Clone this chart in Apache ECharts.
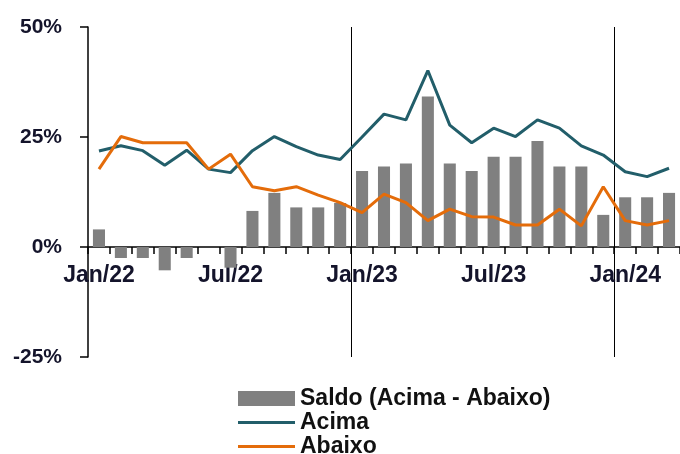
<!DOCTYPE html>
<html>
<head>
<meta charset="utf-8">
<script src="https://cdn.jsdelivr.net/npm/echarts@6/dist/echarts.min.js"></script>
<style>
  html, body { margin: 0; padding: 0; background: #fff; }
  #chart { width: 680px; height: 454px; }
</style>
</head>
<body>
<div id="chart"></div>
<script>
  let months = ['Jan/22', 'Fev/22', 'Mar/22', 'Abr/22', 'Mai/22', 'Jun/22', 'Jul/22', 'Ago/22', 'Set/22', 'Out/22', 'Nov/22', 'Dez/22',
    'Jan/23', 'Fev/23', 'Mar/23', 'Abr/23', 'Mai/23', 'Jun/23', 'Jul/23', 'Ago/23', 'Set/23', 'Out/23', 'Nov/23', 'Dez/23',
    'Jan/24', 'Fev/24', 'Mar/24']
  let saldo = [4.0, -2.5, -2.5, -5.3, -2.5, 0, -4.7, 8.2, 12.3, 9.0, 9.0, 10.0,
    17.3, 18.3, 19.0, 34.2, 19.0, 17.3, 20.5, 20.5, 24.1, 18.3, 18.3, 7.3,
    11.3, 11.3, 12.3]
  let acima = [21.8, 23.0, 21.9, 18.6, 22.0, 17.7, 16.9, 21.9, 25.1, 22.8, 20.9, 19.9,
    25.0, 30.2, 28.9, 40.1, 27.7, 23.7, 27.0, 25.1, 28.9, 27.0, 23.0, 20.9,
    17.1, 16.0, 17.9]
  let abaixo = [17.7, 25.1, 23.7, 23.7, 23.7, 17.7, 21.1, 13.7, 12.8, 13.7, 11.8, 10.1,
    7.8, 12.0, 10.1, 6.0, 8.6, 6.9, 6.8, 5.0, 5.0, 8.6, 4.8, 13.7,
    6.0, 5.0, 6.0]
  // year breaks drawn as split lines before these category indexes
  let yearBreaks = [12, 24]

  let myChart = echarts.init(document.getElementById('chart'))
  let font = 'Liberation Sans, Arial, sans-serif'
  let lineIcon = 'path://M0,0H19V1H0Z'
  let option = {
    animation: false,
    grid: [
      {left: 88, top: 27, width: 594, height: 330},
      // upper part only: its bottom edge is the 0% line, carries the month axis
      {left: 88, top: 27, width: 594, height: 220}
    ],
    legend: {
      orient: 'vertical',
      left: 233,
      top: 382,
      height: 120,
      itemWidth: 57,
      itemHeight: 15,
      itemGap: 1,
      symbolKeepAspect: true,
      data: [
        {name: 'Saldo (Acima - Abaixo)', icon: 'rect'},
        {name: 'Acima', icon: lineIcon},
        {name: 'Abaixo', icon: lineIcon}
      ],
      textStyle: {fontFamily: font, fontSize: 23, fontWeight: 'bold', color: '#111'}
    },
    xAxis: [
      {
        type: 'category',
        data: months,
        axisLine: {show: false},
        axisTick: {show: false},
        axisLabel: {show: false},
        splitLine: {
          show: true,
          interval: (index) => yearBreaks.includes(index),
          lineStyle: {color: '#000', width: 1}
        }
      },
      {
        type: 'category',
        gridIndex: 1,
        data: months,
        axisLine: {show: true, lineStyle: {color: '#000', width: 1.5}},
        axisTick: {show: true, interval: 0, length: 7, lineStyle: {color: '#000', width: 1.5}},
        axisLabel: {
          interval: 5,
          margin: 17,
          fontFamily: font,
          fontSize: 23,
          fontWeight: 'bold',
          color: '#14142b'
        },
        splitLine: {show: false}
      }
    ],
    yAxis: [
      {
        type: 'value',
        min: -25,
        max: 50,
        interval: 25,
        axisLine: {show: true, onZero: false, lineStyle: {color: '#000', width: 1.5}},
        axisTick: {show: true, length: 8, lineStyle: {color: '#000', width: 1.5}},
        axisLabel: {
          formatter: '{value}%',
          margin: 26,
          fontFamily: font,
          fontSize: 21,
          fontWeight: 'bold',
          color: '#14142b'
        },
        splitLine: {show: false}
      },
      {
        type: 'value',
        gridIndex: 1,
        min: 0,
        max: 50,
        show: false
      }
    ],
    series: [
      {
        name: 'Saldo (Acima - Abaixo)',
        type: 'bar',
        data: saldo,
        barWidth: '55%',
        itemStyle: {color: '#808080'}
      },
      {
        name: 'Acima',
        type: 'line',
        data: acima,
        symbol: 'none',
        lineStyle: {color: '#225e6a', width: 3},
        itemStyle: {color: '#225e6a'}
      },
      {
        name: 'Abaixo',
        type: 'line',
        data: abaixo,
        symbol: 'none',
        lineStyle: {color: '#e46c0a', width: 3},
        itemStyle: {color: '#e46c0a'}
      }
    ]
  }
  myChart.setOption(option)
</script>
</body>
</html>
